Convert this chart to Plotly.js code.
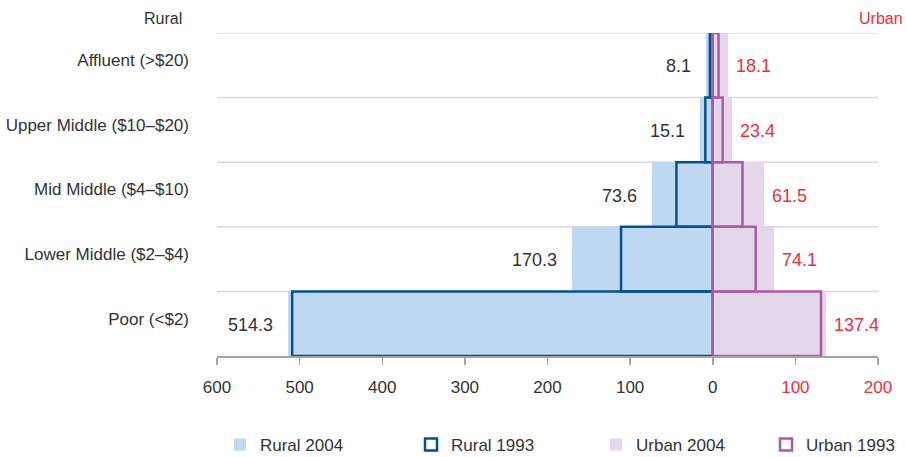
<!DOCTYPE html>
<html>
<head>
<meta charset="utf-8">
<script src="https://cdn.plot.ly/plotly-3.0.1.min.js"></script>
<style>html,body{margin:0;padding:0;background:#fff;}#chart{width:906px;height:457px;}</style>
</head>
<body>
<div id="chart"></div>
<script>
// Categories from bottom to top
const categories = ['Poor (<$2)', 'Lower Middle ($2–$4)', 'Mid Middle ($4–$10)', 'Upper Middle ($10–$20)', 'Affluent (>$20)'];
const rural2004 = [514.3, 170.3, 73.6, 15.1, 8.1];
const rural1993 = [509, 111, 44, 9, 3.5];
const urban2004 = [137.4, 74.1, 61.5, 23.4, 18.1];
const urban1993 = [131, 52, 36, 12, 7];
const tickValues = [-600, -500, -400, -300, -200, -100, 0, 100, 200];
const tickLabels = ['600', '500', '400', '300', '200', '100', '0', '100', '200'];

const FONT = 'Liberation Sans, Arial, sans-serif';
const DARK = '#333333';
const RED = '#e8313a';
const LIGHTBLUE = '#bdd8f0';
const DARKBLUE = '#03528f';
const LIGHTPURPLE = '#e5d7ea';
const PURPLE = '#ad59a6';

const neg = a => a.map(v => -v);

const traces = [
  {type:'bar', orientation:'h', name:'Rural 2004', y:categories, x:neg(rural2004), width:1,
   marker:{color:LIGHTBLUE, line:{width:0}}, legend:'legend', showlegend:true, hoverinfo:'skip'},
  {type:'bar', orientation:'h', name:'Urban 2004', y:categories, x:urban2004, width:1,
   marker:{color:LIGHTPURPLE, line:{width:0}}, legend:'legend3', showlegend:true, hoverinfo:'skip'},
  {type:'bar', orientation:'h', name:'Rural 1993', y:categories, x:neg(rural1993), width:1,
   marker:{color:'rgba(0,0,0,0)', line:{width:2.5, color:DARKBLUE}}, legend:'legend2', showlegend:true, hoverinfo:'skip'},
  {type:'bar', orientation:'h', name:'Urban 1993', y:categories, x:urban1993, width:1,
   marker:{color:'rgba(0,0,0,0)', line:{width:2.5, color:PURPLE}}, legend:'legend4', showlegend:true, hoverinfo:'skip'}
];

const annotations = [];
categories.forEach((c, i) => {
  annotations.push({x:-rural2004[i], y:c, xref:'x', yref:'y', text:rural2004[i].toFixed(1),
    xanchor:'right', yanchor:'middle', xshift:-13, yshift:-1, showarrow:false, font:{family:FONT, size:18, color:DARK}});
  annotations.push({x:urban2004[i], y:c, xref:'x', yref:'y', text:urban2004[i].toFixed(1),
    xanchor:'left', yanchor:'middle', xshift:6, yshift:-1, showarrow:false, font:{family:FONT, size:18, color:RED}});
});
annotations.push({x:-0.0817, y:1.046, xref:'paper', yref:'paper', text:'Rural', showarrow:false,
  xanchor:'center', yanchor:'middle', font:{family:FONT, size:16, color:DARK}});
annotations.push({x:1.0408, y:1.046, xref:'paper', yref:'paper', text:'Urban', showarrow:false,
  xanchor:'right', yanchor:'middle', font:{family:FONT, size:16, color:RED}});

const shapes = [];
for (let i = 0; i < categories.length; i++) {
  shapes.push({type:'line', xref:'paper', yref:'y', x0:0, x1:1, y0:i + 0.5, y1:i + 0.5,
    line:{color:'#d6d9d9', width:1.5}, layer:'below'});
}

const legendBase = {orientation:'h', yanchor:'middle', xanchor:'left', y:-0.2755,
  font:{family:FONT, size:17, color:DARK}, bgcolor:'rgba(0,0,0,0)', borderwidth:0};

const layout = {
  width:906, height:457,
  margin:{l:217, r:28, t:33, b:101, autoexpand:false},
  showlegend:true,
  paper_bgcolor:'#fff', plot_bgcolor:'rgba(0,0,0,0)',
  barmode:'overlay', bargap:0,
  font:{family:FONT, size:17, color:DARK},
  xaxis:{range:[-600, 200], tickvals:tickValues,
    ticktext:tickLabels.map((t, i) => tickValues[i] > 0 ? '<span style="color:' + RED + '">' + t + '</span>' : t),
    showgrid:false, zeroline:false, showline:true, linecolor:'#a3a3a3', linewidth:1.5,
    ticks:'outside', ticklen:7, tickwidth:1.5, tickcolor:'#a3a3a3', ticklabelstandoff:8,
    tickfont:{family:FONT, size:17, color:DARK}, fixedrange:true},
  yaxis:{type:'category', categoryarray:categories, categoryorder:'array', range:[-0.5, 4.5],
    showgrid:false, zeroline:false, showline:false, ticks:'', ticklabelstandoff:27, ticklabelshift:-5,
    tickfont:{family:FONT, size:17, color:DARK}, fixedrange:true},
  yaxis2:{overlaying:'y', anchor:'free', position:(0 + 600) / 800, side:'right', range:[-0.5, 4.5],
    tickvals:[0, 1, 2, 3, 4], ticks:'outside', ticklen:3, tickcolor:'#c4c4c4', tickwidth:1,
    showticklabels:false, showline:false, showgrid:false, zeroline:false, fixedrange:true},
  legend:Object.assign({}, legendBase, {x:0.0045}),
  legend2:Object.assign({}, legendBase, {x:0.2935}),
  legend3:Object.assign({}, legendBase, {x:0.5734}),
  legend4:Object.assign({}, legendBase, {x:0.8306}),
  annotations:annotations,
  shapes:shapes
};

Plotly.newPlot('chart', traces, layout, {displayModeBar:false, staticPlot:true});
</script>
</body>
</html>
